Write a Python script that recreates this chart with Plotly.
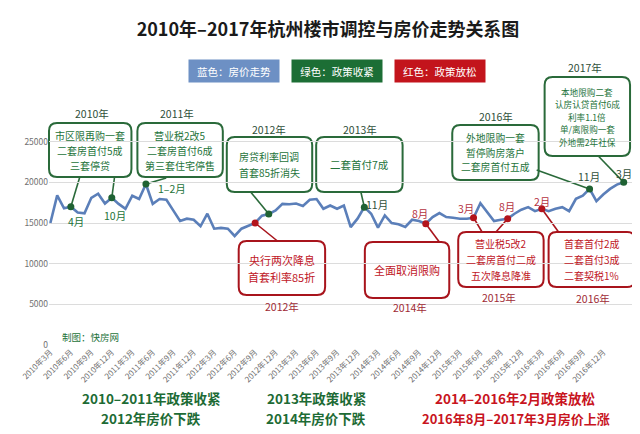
import plotly.graph_objects as go

# monthly series, 2010-03 .. 2017-03
months = []
for k in range(85):
    yy, mm = divmod(2 + k, 12)
    months.append(f"{2010 + yy}年{mm + 1}月")

prices = [
    15000, 18400, 16800, 17000, 16300, 16200, 18100, 18600, 17400, 18100,
    17350, 16750, 18350, 17950, 19800, 17350, 17950, 17850, 16550, 15240,
    15530, 15400, 14600, 16140, 14300, 14400, 14300, 13400, 14300, 14700,
    15000, 15900, 16100, 16550, 17350, 17300, 17400, 17100, 17850, 17950,
    16750, 17150, 16750, 17150, 14500, 15530, 16950, 16140, 14430, 15930,
    15000, 14840, 14510, 15400, 15240, 14920, 15730, 16220, 15730, 15650,
    15530, 15530, 15650, 17440, 16340, 15240, 15400, 15530, 16140, 16630,
    16950, 16460, 16750, 16460, 16750, 16950, 16460, 17970, 18370, 19190,
    17680, 18500, 19190, 19720, 20000,
]

green_months = ["2010年6月", "2010年12月", "2011年5月", "2012年11月",
                "2014年1月", "2016年10月", "2017年3月"]
red_months = ["2012年9月", "2014年10月", "2015年5月", "2015年10月", "2016年3月"]

tick_idx = list(range(0, 82, 3))
y_ticks = [0, 5000, 10000, 15000, 20000, 25000]

FONT = "Noto Sans CJK SC"
BLUE = "#5b7fb9"
GREEN = "#1f6233"
GREEN_TXT = "#24733a"
RED = "#b3141c"
RED_TXT = "#c0161f"

W, H = 640, 434
L, R, T, B = 37, 12, 93, 97
X_RANGE = [-0.2, 85.8]
Y_RANGE = [0, 30000]
PW, PH = W - L - R, H - T - B


def to_paper(px, py):
    return (px - L) / PW, (H - B - py) / PH


def to_data(px, py):
    xp, yp = to_paper(px, py)
    return (X_RANGE[0] + xp * (X_RANGE[1] - X_RANGE[0]),
            Y_RANGE[0] + yp * (Y_RANGE[1] - Y_RANGE[0]))


def round_box(x0, y0, x1, y1, color, r=8):
    xa, yt = to_paper(x0, y0)
    xb, yb = to_paper(x1, y1)
    rx, ry = r / PW, r / PH
    path = (f"M{xa + rx},{yt} L{xb - rx},{yt} Q{xb},{yt} {xb},{yt - ry} "
            f"L{xb},{yb + ry} Q{xb},{yb} {xb - rx},{yb} L{xa + rx},{yb} "
            f"Q{xa},{yb} {xa},{yb + ry} L{xa},{yt - ry} Q{xa},{yt} {xa + rx},{yt} Z")
    return dict(type="path", path=path, xref="paper", yref="paper",
                line=dict(color=color, width=2), fillcolor="white", layer="below")


def text_at(px, py, text, size, color, bold=False, anchor="center"):
    xp, yp = to_paper(px, py)
    if bold:
        text = f"<b>{text}</b>"
    return dict(x=xp, y=yp, xref="paper", yref="paper", text=text, showarrow=False,
                xanchor=anchor, yanchor="middle",
                font=dict(family=FONT, size=size, color=color))


# policy boxes: lines, box (px), font size, line gap, year label, year position
green_boxes = [
    (["市区限再购一套", "二套房首付5成", "三套停贷"], (37, 115, 120, 169), 10, 15, "2010年", (80, 105)),
    (["营业税2改5", "二套房首付6成", "第三套住宅停售"], (126, 115, 212, 169), 10, 15, "2011年", (166, 105)),
    (["房贷利率回调", "首套85折消失"], (216, 129, 302, 184), 10, 16, "2012年", (258, 121)),
    (["二套首付7成"], (306, 129, 393, 184), 10.5, 16, "2013年", (350, 121)),
    (["外地限购一套", "暂停购房落户", "二套房首付五成"], (443, 117, 530, 172), 9.8, 14.5, "2016年", (487, 108)),
    (["本地限购二套", "认房认贷首付6成", "利率1.1倍", "单/离限购一套", "外地需2年社保"],
     (536, 69, 622, 148), 8.6, 12.5, "2017年", (577, 60)),
]
red_boxes = [
    (["央行两次降息", "首套利率85折"], (228, 233, 315, 287), 11, 17, "2012年", (272, 298)),
    (["全面取消限购"], (355, 234, 440, 290), 11, 16, "2014年", (400, 299)),
    (["营业税5改2", "二套房首付二成", "五次降息降准"], (449, 224, 535, 279), 10, 16, "2015年", (490, 289)),
    (["首套首付2成", "二套首付3成", "二套契税1%"], (540, 224, 627, 279), 10, 16, "2016年", (585, 290)),
]

# leader lines: marker month -> point on box (px)
green_links = [("2010年6月", (68, 169)), ("2010年12月", (103, 169)),
               ("2011年5月", (155, 170)), ("2012年11月", (240, 184)),
               ("2014年1月", (351, 184)), ("2016年10月", (528, 162)),
               ("2017年3月", (590, 148))]
red_links = [("2012年9月", (267, 233)), ("2014年10月", (430, 234)),
             ("2015年5月", (473, 224)), ("2015年10月", (487, 224)),
             ("2016年3月", (550, 224))]

green_labels = [("4月", (64, 213), GREEN_TXT), ("10月", (103, 207), GREEN_TXT),
                ("1–2月", (161, 180), GREEN_TXT), ("11月", (367, 196), "#2f4f3a"),
                ("11月", (581, 168), "#2f4f3a"), ("3月", (616, 165), "#2f4f3a")]
red_labels = [("8月", (411, 205)), ("3月", (457, 200)), ("8月", (498, 198)), ("2月", (533, 193))]

fig = go.Figure()

fig.add_trace(go.Scatter(
    x=list(range(len(prices))), y=prices, mode="lines",
    line=dict(color=BLUE, width=2.6), hoverinfo="skip", showlegend=False))

gi = [months.index(m) for m in green_months]
ri = [months.index(m) for m in red_months]
fig.add_trace(go.Scatter(x=gi, y=[prices[i] for i in gi], mode="markers",
                         marker=dict(color=GREEN, size=7), showlegend=False))
fig.add_trace(go.Scatter(x=ri, y=[prices[i] for i in ri], mode="markers",
                         marker=dict(color=RED, size=7), showlegend=False))

shapes = []
annotations = []


def add_box(lines, box, size, gap, year, ypos, edge, txt, ycol):
    x0, y0, x1, y1 = box
    shapes.append(round_box(x0, y0, x1, y1, edge))
    cx, cy = (x0 + x1) / 2, (y0 + y1) / 2
    top = cy - gap * (len(lines) - 1) / 2
    for n, line in enumerate(lines):
        annotations.append(text_at(cx, top + n * gap, line, size, txt))
    annotations.append(text_at(ypos[0], ypos[1], year, 10.5, ycol))


for lines, box, size, gap, year, ypos in green_boxes:
    add_box(lines, box, size, gap, year, ypos, "#2a6a3a", GREEN_TXT, "#2f4f3a")
for lines, box, size, gap, year, ypos in red_boxes:
    add_box(lines, box, size, gap, year, ypos, "#a8141c", RED_TXT, "#a02a35")

for links, col in ((green_links, "#2a6a3a"), (red_links, "#a8141c")):
    for m, (px, py) in links:
        i = months.index(m)
        bx, by = to_data(px, py)
        shapes.append(dict(type="line", xref="x", yref="y", x0=i, y0=prices[i],
                           x1=bx, y1=by, line=dict(color=col, width=1.6), layer="below"))

for text, (px, py), col in green_labels:
    annotations.append(text_at(px, py, text, 10.5, col))
for text, (px, py) in red_labels:
    annotations.append(text_at(px, py, text, 10.5, "#b5323f"))

# colour key
for text, cx, bg in (("蓝色：房价走势", 223, "#6d90c4"), ("绿色：政策收紧", 327, "#1c6e35"),
                     ("红色：政策放松", 431, "#c3141c")):
    xp, yp = to_paper(cx, 63)
    annotations.append(dict(x=xp, y=yp, xref="paper", yref="paper", text=text,
                            showarrow=False, bgcolor=bg, borderpad=2, width=86, height=18,
                            xanchor="center", yanchor="middle",
                            font=dict(family=FONT, size=10.5, color="white")))

annotations.append(text_at(48, 329, "制图：快房网", 9.5, GREEN_TXT, anchor="left"))

# summary lines under the axis
annotations += [
    text_at(140, 390, "2010–2011年政策收紧", 13.5, "#1d6b35", bold=True),
    text_at(140, 410, "2012年房价下跌", 13.5, "#1d6b35", bold=True),
    text_at(306, 390, "2013年政策收紧", 13.5, "#1d6b35", bold=True),
    text_at(306, 410, "2014年房价下跌", 13.5, "#1d6b35", bold=True),
    text_at(507, 390, "2014–2016年2月政策放松", 13.5, "#c8141e", bold=True),
    text_at(507, 410, "2016年8月–2017年3月房价上涨", 13, "#c8141e", bold=True),
]

fig.update_layout(
    width=W, height=H,
    margin=dict(l=L, r=R, t=T, b=B),
    paper_bgcolor="white", plot_bgcolor="white",
    title=dict(text="<b>2010年–2017年杭州楼市调控与房价走势关系图</b>",
               x=0.5, xanchor="center", y=1 - 22 / H, yanchor="middle",
               font=dict(family=FONT, size=18, color="#1a1a1a")),
    xaxis=dict(range=X_RANGE, tickmode="array", tickvals=tick_idx,
               ticktext=[months[i] for i in tick_idx], tickangle=-45,
               tickfont=dict(family=FONT, size=8, color="#707070"),
               showgrid=False, zeroline=False, showline=False, ticks=""),
    yaxis=dict(range=Y_RANGE, tickmode="array", tickvals=y_ticks,
               ticktext=[str(v) for v in y_ticks],
               tickfont=dict(family=FONT, size=8.5, color="#707070"),
               gridcolor="#dcdcdc", zeroline=False, showline=False, ticks=""),
    shapes=shapes,
    annotations=annotations,
    showlegend=False,
)

fig.write_html("out.html")
